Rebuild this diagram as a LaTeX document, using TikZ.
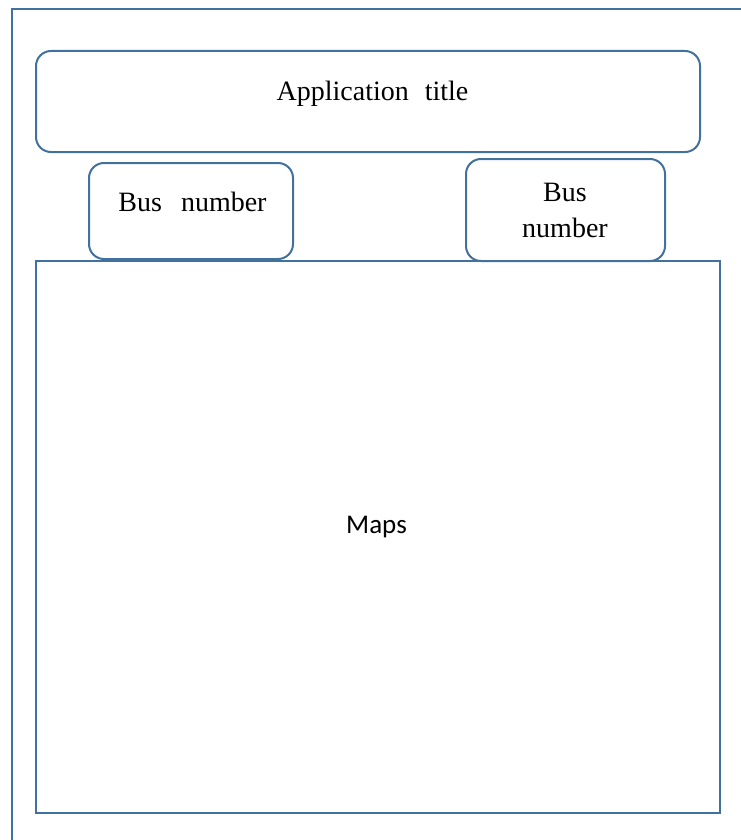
\documentclass[tikz,border=0pt]{standalone}
\usepackage{fontspec}
\setmainfont{Liberation Serif}
\newfontfamily\mapsfont{Carlito}
\definecolor{frameblue}{RGB}{65,113,156}
\begin{document}
\begin{tikzpicture}[x=1pt,y=-1pt,
  box/.style={draw=frameblue,line width=2pt,inner sep=0pt},
  rbox/.style={box,rounded corners=15pt},
  lbl/.style={anchor=base,inner sep=0pt,font=\fontsize{28}{36}\selectfont}]
\useasboundingbox (0,0) rectangle (741,840);
% outer frame (partially outside the page)
\coordinate (fbl) at (12,841);
\coordinate (ftl) at (12,9);
\coordinate (ftr) at (742,9);
\draw[draw=frameblue,line width=2pt] (fbl) -- (ftl) -- (ftr);
% boxes
\node[rbox,minimum width=664pt,minimum height=101pt] (title) at (368,101.5) {};
\node[rbox,minimum width=204pt,minimum height=96pt] (bus1) at (191,211) {};
\node[rbox,minimum width=199pt,minimum height=102pt] (bus2) at (565.5,210) {};
\node[box,minimum width=684pt,minimum height=552pt] (map) at (378,537) {};
% texts
\node[lbl] (titletxt) at (372.5,101) {Application\hspace{16pt}title};
\node[lbl] (bus1txt) at (192.5,211) {Bus\hspace{19pt}number};
\node[lbl] (bus2a) at (565,201) {Bus};
\node[lbl] (bus2b) at (565,237) {number};
\node[anchor=base,inner sep=0pt,font=\mapsfont\fontsize{27}{32}\selectfont] (maptxt) at (376.5,533) {Maps};
\end{tikzpicture}
\end{document}
